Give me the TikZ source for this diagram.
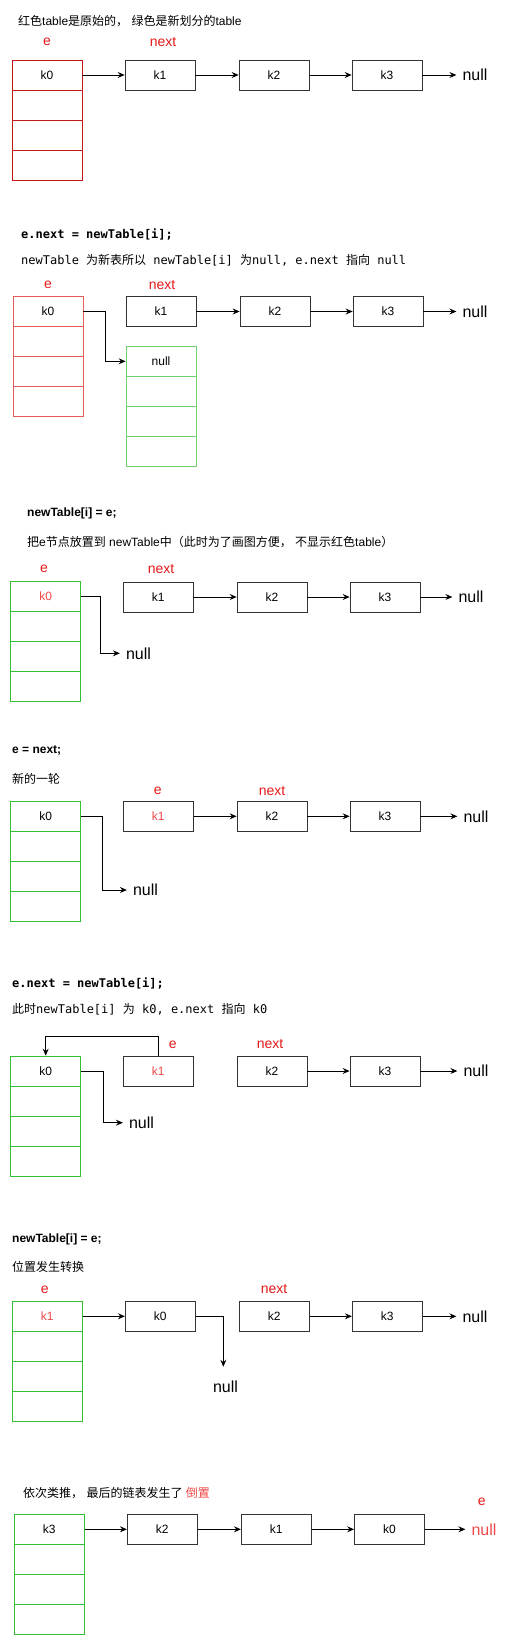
\documentclass[tikz,border=0pt]{standalone}
\usepackage{fontspec}
\setmainfont{Liberation Sans}
\setmonofont{DejaVu Sans Mono}
\newfontfamily\cjk{Noto Sans CJK SC}
\usetikzlibrary{arrows.meta}
\definecolor{redA}{HTML}{C01818}
\definecolor{redB}{HTML}{E85A5A}
\definecolor{greenA}{HTML}{33C033}
\definecolor{greenB}{HTML}{70D070}
\definecolor{lblred}{HTML}{E51A1A}
\definecolor{txtred}{HTML}{F04848}
\definecolor{boxgray}{HTML}{333333}
\newcommand\fs[1]{\fontsize{#1}{#1}\selectfont}
\newcommand\mktable[5]{%
  \node[cell,#4] (#1a) at (#2,#3+15) {#5};
  \node[cell,#4] (#1b) at (#2,#3+45) {};
  \node[cell,#4] (#1c) at (#2,#3+75) {};
  \node[cell,#4] (#1d) at (#2,#3+105) {};
}
\tikzset{
  cell/.style={rectangle, draw, line width=0.8pt, minimum width=70pt, minimum height=30pt, inner sep=0pt, font=\fs{12}},
  listbox/.style={cell, draw=boxgray},
  arr/.style={-{Stealth[length=7pt,width=6pt,inset=2.5pt]}, line width=0.8pt},
  lbl/.style={text=lblred, font=\fs{14}, inner sep=0pt},
  bignull/.style={font=\fs{16}, inner ysep=3pt, inner xsep=6pt},
  line/.style={anchor=west, inner sep=0pt, font=\fs{12}},
}
\begin{document}
\begin{tikzpicture}[x=1pt,y=-1pt]
\fill[white] (0,0) rectangle (516,1645);
% ---------- Section 1 ----------
\node[line] (t1) at (18,21) {{\cjk 红色}table{\cjk 是原始的，} {\cjk 绿色是新划分的}table};
\node[lbl] (e1) at (47,42) {e};
\node[lbl] (n1) at (163,42) {next};
\mktable{T1}{47}{60}{draw=redA}{k0}
\node[listbox] (k1s1) at (160,75) {k1};
\node[listbox] (k2s1) at (274,75) {k2};
\node[listbox] (k3s1) at (387,75) {k3};
\node[bignull] (nl1) at (475,75) {null};
\draw[arr] (T1a.east) -- (k1s1.west);
\draw[arr] (k1s1.east) -- (k2s1.west);
\draw[arr] (k2s1.east) -- (k3s1.west);
\draw[arr] (k3s1.east) -- (nl1.west);
% ---------- Section 2 ----------
\node[line, font=\fs{12}\ttfamily\bfseries] (t2a) at (21,234.7) {e.next = newTable[i];};
\node[line, font=\fs{12}\ttfamily] (t2b) at (21,260.7) {newTable {\cjk 为新表所以} newTable[i] {\cjk 为}null, e.next {\cjk 指向} null};
\node[lbl] (e2) at (48,285.3) {e};
\node[lbl] (n2) at (162,285.3) {next};
\mktable{T2}{48}{296.7}{draw=redB}{k0}
\node[listbox] (k1s2) at (161,311.5) {k1};
\node[listbox] (k2s2) at (275,311.5) {k2};
\node[listbox] (k3s2) at (388,311.5) {k3};
\node[bignull] (nl2) at (475,311.5) {null};
\mktable{G2}{161}{346.3}{draw=greenB}{null}
\draw[arr] (k1s2.east) -- (k2s2.west);
\draw[arr] (k2s2.east) -- (k3s2.west);
\draw[arr] (k3s2.east) -- (nl2.west);
\draw[arr] (T2a.east) -- ++(22,0) |- (G2a.west);
% ---------- Section 3 ----------
\node[line, font=\fs{12}\bfseries] (t3a) at (27,513.3) {newTable[i] = e;};
\node[line] (t3b) at (27,541.7) {{\cjk 把}e{\cjk 节点放置到} newTable{\cjk 中（此时为了画图方便，} {\cjk 不显示红色}table{\cjk ）}};
\node[lbl] (e3) at (44,568.7) {e};
\node[lbl] (n3) at (161,568.7) {next};
\mktable{G3}{45.7}{581.7}{draw=greenA}{\textcolor{txtred}{k0}}
\node[listbox] (k1s3) at (158.3,597) {k1};
\node[listbox] (k2s3) at (272,597) {k2};
\node[listbox] (k3s3) at (385,597) {k3};
\node[bignull] (nl3) at (471,597) {null};
\node[bignull] (nl3b) at (138.5,653.3) {null};
\draw[arr] (k1s3.east) -- (k2s3.west);
\draw[arr] (k2s3.east) -- (k3s3.west);
\draw[arr] (k3s3.east) -- (nl3.west);
\draw[arr] (G3a.east) -- ++(19.3,0) |- (nl3b.west);
% ---------- Section 4 ----------
\node[line, font=\fs{12}\bfseries] (t4a) at (12,750.7) {e = next;};
\node[line] (t4b) at (12,779.3) {{\cjk 新的一轮}};
\node[lbl] (e4) at (157.7,790.7) {e};
\node[lbl] (n4) at (272,790.7) {next};
\mktable{G4}{45.7}{801.3}{draw=greenA}{k0}
\node[listbox] (k1s4) at (158.3,816.3) {\textcolor{txtred}{k1}};
\node[listbox] (k2s4) at (272,816.3) {k2};
\node[listbox] (k3s4) at (385,816.3) {k3};
\node[bignull] (nl4) at (476,816.3) {null};
\node[bignull] (nl4b) at (145.5,890) {null};
\draw[arr] (k1s4.east) -- (k2s4.west);
\draw[arr] (k2s4.east) -- (k3s4.west);
\draw[arr] (k3s4.east) -- (nl4.west);
\draw[arr] (G4a.east) -- ++(21.3,0) |- (nl4b.west);
% ---------- Section 5 ----------
\node[line, font=\fs{12}\ttfamily\bfseries] (t5a) at (12,983.3) {e.next = newTable[i];};
\node[line, font=\fs{12}\ttfamily] (t5b) at (12,1009) {{\cjk 此时}newTable[i] {\cjk 为} k0, e.next {\cjk 指向} k0};
\mktable{G5}{45.7}{1056}{draw=greenA}{k0}
\node[listbox] (k1s5) at (158.3,1071) {\textcolor{txtred}{k1}};
\node[listbox] (k2s5) at (272,1071) {k2};
\node[listbox] (k3s5) at (385,1071) {k3};
\node[lbl] (e5) at (172.7,1044.3) {e};
\node[lbl] (n5) at (270,1044.3) {next};
\node[bignull] (nl5) at (476,1071) {null};
\node[bignull] (nl5b) at (141.5,1122.7) {null};
\draw[arr] (k1s5.north) -- ++(0,-19.3) -| (G5a.north);
\draw[arr] (k2s5.east) -- (k3s5.west);
\draw[arr] (k3s5.east) -- (nl5.west);
\draw[arr] (G5a.east) -- ++(22.6,0) |- (nl5b.west);
% ---------- Section 6 ----------
\node[line, font=\fs{12}\bfseries] (t6a) at (12,1239) {newTable[i] = e;};
\node[line] (t6b) at (12,1267.3) {{\cjk 位置发生转换}};
\node[lbl] (e6) at (44.7,1289.3) {e};
\node[lbl] (n6) at (274,1289.3) {next};
\mktable{G6}{47.3}{1301.3}{draw=greenA}{\textcolor{txtred}{k1}}
\node[listbox] (k0s6) at (160.3,1316.3) {k0};
\node[listbox] (k2s6) at (274.3,1316.3) {k2};
\node[listbox] (k3s6) at (387.3,1316.3) {k3};
\node[bignull] (nl6) at (475,1316.3) {null};
\node[bignull] (nl6b) at (225.5,1386.7) {null};
\coordinate (c6) at (223.3,1366.7);
\draw[arr] (G6a.east) -- (k0s6.west);
\draw[arr] (k0s6.east) -| (c6);
\draw[arr] (k2s6.east) -- (k3s6.west);
\draw[arr] (k3s6.east) -- (nl6.west);
% ---------- Section 7 ----------
\node[line] (t7) at (23,1492.7) {{\cjk 依次类推，} {\cjk 最后的链表发生了} {\cjk\color{txtred}倒置}};
\node[lbl] (e7) at (481.7,1501.3) {e};
\mktable{G7}{49.3}{1514.3}{draw=greenA}{k3}
\node[listbox] (k2s7) at (162.3,1529.3) {k2};
\node[listbox] (k1s7) at (276.3,1529.3) {k1};
\node[listbox] (k0s7) at (389.5,1529.3) {k0};
\node[bignull, text=txtred] (nl7) at (484,1529.3) {null};
\draw[arr] (G7a.east) -- (k2s7.west);
\draw[arr] (k2s7.east) -- (k1s7.west);
\draw[arr] (k1s7.east) -- (k0s7.west);
\draw[arr] (k0s7.east) -- (nl7.west);
\end{tikzpicture}
\end{document}
